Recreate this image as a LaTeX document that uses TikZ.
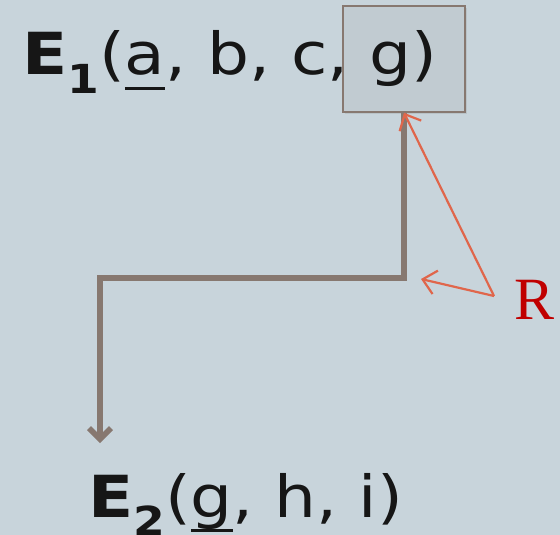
\documentclass[tikz,border=0pt]{standalone}
\usepackage{fontspec}
\setmainfont[FakeStretch=1.14]{DejaVu Sans}
\newfontfamily\rfont{Liberation Serif}
\usetikzlibrary{arrows.meta,shadows}
\definecolor{bg}{HTML}{C8D4DB}
\definecolor{boxfill}{HTML}{C1CBD1}
\definecolor{taupe}{HTML}{877870}
\definecolor{coral}{HTML}{E0664B}
\definecolor{deepred}{HTML}{C00000}
\definecolor{ink}{HTML}{161616}
\newcommand\lowsub[1]{\raisebox{-18pt}{\fontsize{40}{40}\selectfont\bfseries #1}}
\newcommand\undermark[1]{\setbox0\hbox{#1}\rlap{\rule[-15pt]{\wd0}{3pt}}#1}

\begin{document}
\begin{tikzpicture}[x=1pt,y=-1pt,
  label/.style={anchor=base west,inner sep=0pt,text=ink,font=\fontsize{58}{60}\selectfont},
  pointer/.style={coral,line width=2.2pt,-{Straight Barb[length=13pt,width=24pt]}},
  link/.style={taupe,line width=5.5pt,-{Straight Barb[length=11pt,width=22pt]}}]
\fill[bg] (0,0) rectangle (560,535);
\node[draw=taupe,fill=boxfill,line width=1.5pt,minimum width=122pt,minimum height=106pt,inner sep=0pt,
  drop shadow={opacity=0.2,shadow xshift=2pt,shadow yshift=-2pt}] (gbox) at (404,59) {};
\node[label] (e1) at (22,75) {\textbf{E}\lowsub{1}(\undermark{a}, b, c, g)};
\node[label] (e2) at (88,517) {\textbf{E}\lowsub{2}(\undermark{g}, h, i)};
\node[text=deepred,font=\rfont\fontsize{60}{60}\selectfont] (rlab) at (535,300) {R};
% path of the link
\coordinate (turn1) at (404,278);
\coordinate (turn2) at (100,278);
\coordinate (tipE2) at (100,443);
\draw[link] (gbox.south) -- (turn1) -- (turn2) -- (tipE2);
% pointers from R
\coordinate (rfoot) at (494,296);
\coordinate (rtip) at (421,279);
\draw[pointer] (rfoot) -- (gbox.south);
\draw[pointer] (rfoot) -- (rtip);
\end{tikzpicture}
\end{document}
